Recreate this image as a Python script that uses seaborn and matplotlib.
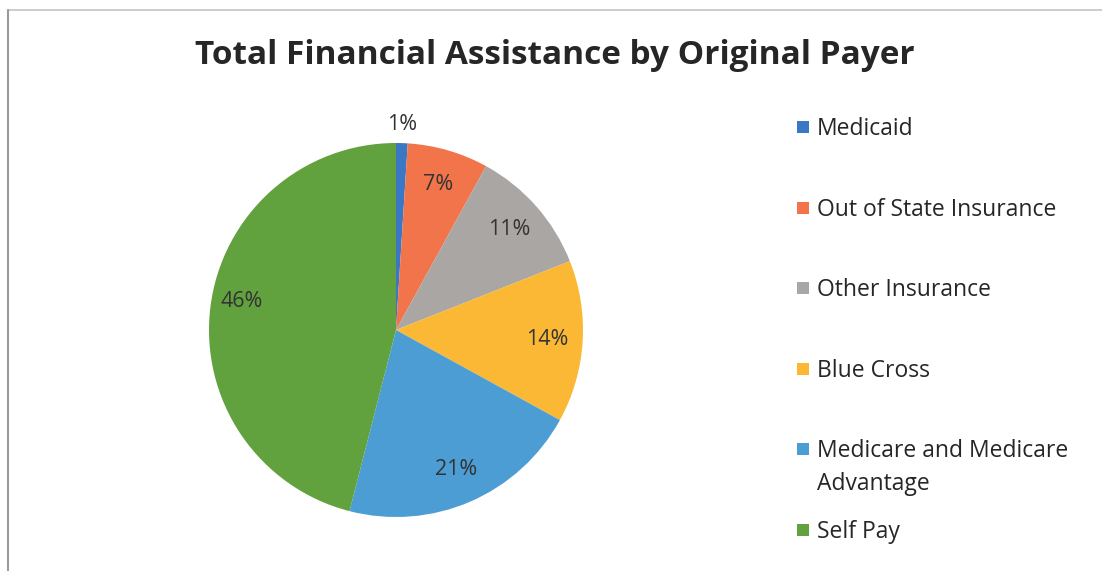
import matplotlib
matplotlib.use("Agg")
import matplotlib.pyplot as plt
import matplotlib.patches as mpatches
import seaborn as sns
import numpy as np

sns.set_theme(style="white")
plt.rcParams['font.family'] = ['Open Sans', 'DejaVu Sans']

categories = ["Medicaid", "Out of State Insurance", "Other Insurance", "Blue Cross",
              "Medicare and Medicare\nAdvantage", "Self Pay"]
values = [1, 7, 11, 14, 21, 46]
colors = ["#3A78C4", "#F2744A", "#AAA6A4", "#FBB834", "#4B9DD3", "#62A23E"]

W, H = 1102, 571
fig = plt.figure(figsize=(W / 100, H / 100), dpi=100)
fig.patch.set_facecolor("white")

# pie axes: center (396, 330) px, radius 187 px
r_px = 187
cx, cy = 396, 330
ax = fig.add_axes([(cx - r_px) / W, 1 - (cy + r_px) / H, 2 * r_px / W, 2 * r_px / H])

wedges, texts, autotexts = ax.pie(
    values, colors=colors, startangle=90, counterclock=False,
    autopct=lambda p: f"{p:.0f}%", pctdistance=0.81,
    wedgeprops=dict(linewidth=0), textprops=dict(fontsize=15.5, color="#333333"))
ax.set_aspect("equal")
ax.set_xlim(-1, 1)
ax.set_ylim(-1, 1)

# move the small Medicaid label outside
w0 = wedges[0]
ang = np.deg2rad((w0.theta1 + w0.theta2) / 2)
autotexts[0].set_position((1.10 * np.cos(ang), 1.10 * np.sin(ang)))
# nudge the Self Pay label toward reference placement
a5 = np.deg2rad((wedges[5].theta1 + wedges[5].theta2) / 2)
autotexts[5].set_position((0.83 * np.cos(a5), 0.83 * np.sin(a5) + 0.05))

fig.text(555 / W, 1 - 55 / H, "Total Financial Assistance by Original Payer",
         ha="center", va="center", fontsize=24, fontweight="bold", color="#262626")

# legend (drawn as a column of square keys and labels)
leg_x, leg_y0, leg_dy = 797, 127, 80.6
for i, (cat, col) in enumerate(zip(categories, colors)):
    yc = leg_y0 + leg_dy * i
    fig.patches.append(mpatches.Rectangle((leg_x / W, 1 - (yc + 6) / H), 12 / W, 12 / H,
                                          transform=fig.transFigure, facecolor=col,
                                          edgecolor="none", figure=fig))
    fig.text((leg_x + 20) / W, 1 - (yc - 10) / H, cat, ha="left", va="top",
             fontsize=16.5, color="#262626", linespacing=1.5)

# frame lines (top & left)
fig.add_artist(plt.Line2D([8 / W, 1], [1 - 10 / H, 1 - 10 / H], color="#C4C4C4", lw=1.2))
fig.add_artist(plt.Line2D([8 / W, 8 / W], [0, 1 - 10 / H], color="#9A9A9A", lw=1.5))

fig.savefig("out.png", dpi=100, facecolor="white")
